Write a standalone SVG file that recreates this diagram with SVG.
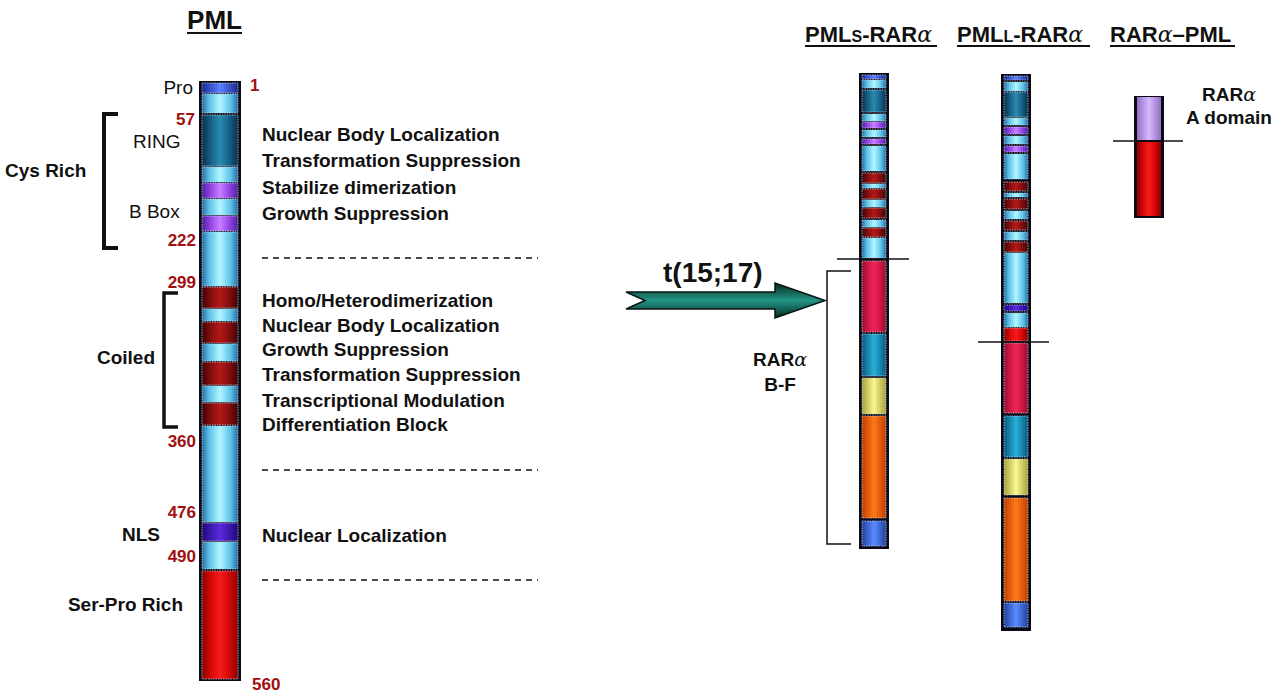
<svg xmlns="http://www.w3.org/2000/svg" width="1280" height="693" viewBox="0 0 1280 693">
<style>
.t{font-family:"Liberation Sans",Arial,sans-serif;font-size:19px;fill:#111}
.b{font-weight:bold}
.n{font-family:"Liberation Sans",Arial,sans-serif;font-size:17px;font-weight:bold;fill:#a01010}
.ttl{font-family:"Liberation Sans",Arial,sans-serif;font-size:22px;font-weight:bold;fill:#111}
.big{font-size:25px}
.tr{font-size:28px}
.sc{font-size:16px}
.al{font-weight:normal;font-family:"DejaVu Serif",serif;font-style:italic}
.dash{stroke:#111;stroke-width:1.5;stroke-dasharray:6 5;fill:none}
.cut{stroke:#111;stroke-width:1.5}
.brk{stroke:#111;fill:none}
.frame{fill:#0a0a16}
.seg{stroke:#c8d8ea;stroke-width:0.7;stroke-dasharray:1.5 1}
.cy{fill:url(#gCyan)}.tl{fill:url(#gTeal)}.pu{fill:url(#gPurple)}.bl{fill:url(#gBlue)}
.dr{fill:url(#gDRed)}.nl{fill:url(#gNLS)}.rd{fill:url(#gRed)}.cr{fill:url(#gCrim)}
.ct{fill:url(#gCteal)}.ye{fill:url(#gYel)}.or{fill:url(#gOr)}.fb{fill:url(#gFb)}.lv{fill:url(#gLav)}
</style>
<defs>
<linearGradient id="gCyan"><stop offset="0" stop-color="#2a6ea0"/><stop offset="0.2" stop-color="#5cc0e8"/><stop offset="0.5" stop-color="#b0f6ff"/><stop offset="0.8" stop-color="#5cc0e8"/><stop offset="1" stop-color="#2a6ea0"/></linearGradient>
<linearGradient id="gTeal"><stop offset="0" stop-color="#0a3050"/><stop offset="0.3" stop-color="#1a6a90"/><stop offset="0.5" stop-color="#2a8aae"/><stop offset="0.7" stop-color="#1a6a90"/><stop offset="1" stop-color="#0a3050"/></linearGradient>
<linearGradient id="gPurple"><stop offset="0" stop-color="#5020a0"/><stop offset="0.3" stop-color="#a050f0"/><stop offset="0.5" stop-color="#c880ff"/><stop offset="0.7" stop-color="#a050f0"/><stop offset="1" stop-color="#5020a0"/></linearGradient>
<linearGradient id="gBlue"><stop offset="0" stop-color="#1a2a90"/><stop offset="0.5" stop-color="#5a80ff"/><stop offset="1" stop-color="#1a2a90"/></linearGradient>
<linearGradient id="gDRed"><stop offset="0" stop-color="#400505"/><stop offset="0.3" stop-color="#901010"/><stop offset="0.5" stop-color="#b41818"/><stop offset="0.7" stop-color="#901010"/><stop offset="1" stop-color="#400505"/></linearGradient>
<linearGradient id="gNLS"><stop offset="0" stop-color="#20087a"/><stop offset="0.5" stop-color="#5a2ae0"/><stop offset="1" stop-color="#20087a"/></linearGradient>
<linearGradient id="gRed"><stop offset="0" stop-color="#8a0000"/><stop offset="0.3" stop-color="#e00a0a"/><stop offset="0.5" stop-color="#f41c1c"/><stop offset="0.7" stop-color="#e00a0a"/><stop offset="1" stop-color="#8a0000"/></linearGradient>
<linearGradient id="gCrim"><stop offset="0" stop-color="#901030"/><stop offset="0.3" stop-color="#dc1848"/><stop offset="0.5" stop-color="#e8285a"/><stop offset="0.7" stop-color="#dc1848"/><stop offset="1" stop-color="#901030"/></linearGradient>
<linearGradient id="gCteal"><stop offset="0" stop-color="#0a5a80"/><stop offset="0.5" stop-color="#28b0d8"/><stop offset="1" stop-color="#0a5a80"/></linearGradient>
<linearGradient id="gYel"><stop offset="0" stop-color="#a8a040"/><stop offset="0.5" stop-color="#f8f890"/><stop offset="1" stop-color="#a8a040"/></linearGradient>
<linearGradient id="gOr"><stop offset="0" stop-color="#c04000"/><stop offset="0.5" stop-color="#ff7818"/><stop offset="1" stop-color="#c04000"/></linearGradient>
<linearGradient id="gFb"><stop offset="0" stop-color="#2040a0"/><stop offset="0.5" stop-color="#5a8cff"/><stop offset="1" stop-color="#2040a0"/></linearGradient>
<linearGradient id="gLav"><stop offset="0" stop-color="#9070c0"/><stop offset="0.5" stop-color="#d8b8ff"/><stop offset="1" stop-color="#9070c0"/></linearGradient>
<linearGradient id="gArrow" x1="0" y1="0" x2="0" y2="1"><stop offset="0" stop-color="#062a24"/><stop offset="0.5" stop-color="#239585"/><stop offset="1" stop-color="#062a24"/></linearGradient>
</defs>
<rect width="1280" height="693" fill="#ffffff"/>

<g id="title-pml">
<text class="ttl big" x="187" y="29" textLength="55" lengthAdjust="spacingAndGlyphs">PML</text>
<line x1="187" y1="33" x2="242" y2="33" stroke="#111" stroke-width="2"/>
</g>

<g id="pml-bar">
<rect class="frame" x="199" y="81" width="42" height="600"/>
<g class="seg">
<rect class="bl" x="202" y="83" width="36" height="10"/>
<rect class="cy" x="202" y="94" width="36" height="19"/>
<rect class="tl" x="202" y="115" width="36" height="51"/>
<rect class="cy" x="202" y="167" width="36" height="15"/>
<rect class="pu" x="202" y="183" width="36" height="15"/>
<rect class="cy" x="202" y="199" width="36" height="16"/>
<rect class="pu" x="202" y="216" width="36" height="15"/>
<rect class="cy" x="202" y="232" width="36" height="54"/>
<rect class="dr" x="202" y="287" width="36" height="21"/>
<rect class="cy" x="202" y="309" width="36" height="12"/>
<rect class="dr" x="202" y="322" width="36" height="21"/>
<rect class="cy" x="202" y="344" width="36" height="17"/>
<rect class="dr" x="202" y="362" width="36" height="23"/>
<rect class="cy" x="202" y="386" width="36" height="16"/>
<rect class="dr" x="202" y="403" width="36" height="22"/>
<rect class="cy" x="202" y="426" width="36" height="96"/>
<rect class="nl" x="202" y="523" width="36" height="18"/>
<rect class="cy" x="202" y="542" width="36" height="27"/>
<rect class="rd" x="202" y="571" width="36" height="108"/>
</g>
</g>

<g id="pml-labels">
<text class="t" x="193" y="94" text-anchor="end">Pro</text>
<text class="n" x="250" y="91">1</text>
<text class="n" x="195" y="125" text-anchor="end">57</text>
<text class="t" x="133" y="148">RING</text>
<text class="t" x="129" y="218">B Box</text>
<text class="n" x="196" y="246" text-anchor="end">222</text>
<text class="t b" x="5" y="177">Cys Rich</text>
<text class="n" x="196" y="288" text-anchor="end">299</text>
<text class="t b" x="155" y="364" text-anchor="end">Coiled</text>
<text class="n" x="196" y="447" text-anchor="end">360</text>
<text class="n" x="196" y="518" text-anchor="end">476</text>
<text class="t b" x="160" y="541" text-anchor="end">NLS</text>
<text class="n" x="196" y="562" text-anchor="end">490</text>
<text class="t b" x="183" y="611" text-anchor="end">Ser-Pro Rich</text>
<text class="n" x="252" y="690">560</text>
</g>

<g id="function-labels">
<text class="t b" x="262" y="141">Nuclear Body Localization</text>
<text class="t b" x="262" y="167">Transformation Suppression</text>
<text class="t b" x="262" y="194">Stabilize dimerization</text>
<text class="t b" x="262" y="220">Growth Suppression</text>
<text class="t b" x="262" y="307">Homo/Heterodimerization</text>
<text class="t b" x="262" y="332">Nuclear Body Localization</text>
<text class="t b" x="262" y="356">Growth Suppression</text>
<text class="t b" x="262" y="381">Transformation Suppression</text>
<text class="t b" x="262" y="407">Transcriptional Modulation</text>
<text class="t b" x="262" y="431">Differentiation Block</text>
<text class="t b" x="262" y="542">Nuclear Localization</text>
</g>

<g id="titles-fusion">
<text class="ttl" x="805" y="42">PML<tspan class="sc">S</tspan>-RAR<tspan class="al">α</tspan></text>
<line x1="805" y1="46" x2="937" y2="46" stroke="#111" stroke-width="2"/>
<text class="ttl" x="957" y="42">PML<tspan class="sc">L</tspan>-RAR<tspan class="al">α</tspan></text>
<line x1="957" y1="46" x2="1090" y2="46" stroke="#111" stroke-width="2"/>
<text class="ttl" x="1110" y="42">RAR<tspan class="al">α</tspan>–PML</text>
<line x1="1110" y1="46" x2="1235" y2="46" stroke="#111" stroke-width="2"/>
</g>

<g id="pmls-rara">
<rect class="frame" x="859" y="73" width="30" height="476"/>
<g class="seg">
<rect class="bl" x="862" y="75" width="24" height="4"/>
<rect class="cy" x="862" y="80" width="24" height="8"/>
<rect class="tl" x="862" y="90" width="24" height="22"/>
<rect class="cy" x="862" y="114" width="24" height="7"/>
<rect class="pu" x="862" y="122" width="24" height="6"/>
<rect class="cy" x="862" y="130" width="24" height="7"/>
<rect class="pu" x="862" y="139" width="24" height="5"/>
<rect class="cy" x="862" y="146" width="24" height="25"/>
<rect class="dr" x="862" y="173" width="24" height="10"/>
<rect class="cy" x="862" y="184" width="24" height="4"/>
<rect class="dr" x="862" y="189" width="24" height="10"/>
<rect class="cy" x="862" y="200" width="24" height="7"/>
<rect class="dr" x="862" y="208" width="24" height="10"/>
<rect class="cy" x="862" y="220" width="24" height="7"/>
<rect class="dr" x="862" y="228" width="24" height="9"/>
<rect class="cy" x="862" y="238" width="24" height="20"/>
<rect class="cr" x="862" y="261" width="24" height="71"/>
<rect class="ct" x="862" y="334" width="24" height="42"/>
<rect class="ye" x="862" y="378" width="24" height="36"/>
<rect class="or" x="862" y="416" width="24" height="102"/>
<rect class="fb" x="862" y="521" width="24" height="25"/>
</g>
</g>

<g id="pmll-rara">
<rect class="frame" x="1001" y="74" width="30" height="557"/>
<g class="seg">
<rect class="bl" x="1004" y="76" width="24" height="4"/>
<rect class="cy" x="1004" y="82" width="24" height="9"/>
<rect class="tl" x="1004" y="92" width="24" height="25"/>
<rect class="cy" x="1004" y="118" width="24" height="7"/>
<rect class="pu" x="1004" y="127" width="24" height="7"/>
<rect class="cy" x="1004" y="136" width="24" height="8"/>
<rect class="pu" x="1004" y="146" width="24" height="6"/>
<rect class="cy" x="1004" y="154" width="24" height="25"/>
<rect class="dr" x="1004" y="182" width="24" height="9"/>
<rect class="cy" x="1004" y="193" width="24" height="4"/>
<rect class="dr" x="1004" y="199" width="24" height="10"/>
<rect class="cy" x="1004" y="211" width="24" height="8"/>
<rect class="dr" x="1004" y="221" width="24" height="9"/>
<rect class="cy" x="1004" y="232" width="24" height="8"/>
<rect class="dr" x="1004" y="242" width="24" height="10"/>
<rect class="cy" x="1004" y="253" width="24" height="50"/>
<rect class="nl" x="1004" y="305" width="24" height="6"/>
<rect class="cy" x="1004" y="313" width="24" height="14"/>
<rect class="rd" x="1004" y="328" width="24" height="13"/>
<rect class="cr" x="1004" y="343" width="24" height="70"/>
<rect class="ct" x="1004" y="416" width="24" height="41"/>
<rect class="ye" x="1004" y="459" width="24" height="36"/>
<rect class="or" x="1004" y="498" width="24" height="103"/>
<rect class="fb" x="1004" y="603" width="24" height="24"/>
</g>
</g>

<g id="rara-pml">
<rect class="frame" x="1134" y="96" width="30" height="122"/>
<rect class="lv" x="1137" y="97" width="24" height="43"/>
<rect class="rd" x="1137" y="142" width="24" height="74"/>
<text class="t b" x="1229" y="101" text-anchor="middle">RAR<tspan class="al">α</tspan></text>
<text class="t b" x="1229" y="124" text-anchor="middle">A domain</text>
</g>

<g id="rara-bf-label">
<text class="t b" x="780" y="366" text-anchor="middle">RAR<tspan class="al">α</tspan></text>
<text class="t b" x="780" y="391" text-anchor="middle">B-F</text>
</g>

<g id="connectors">
<path class="brk" stroke-width="4" d="M118,114 H104 V248 H118"/>
<path class="brk" stroke-width="3.5" d="M178,293 H164 V427 H178"/>
<line class="dash" x1="262" y1="258" x2="538" y2="258"/>
<line class="dash" x1="262" y1="470" x2="538" y2="470"/>
<line class="dash" x1="262" y1="580" x2="538" y2="580"/>
<line class="cut" x1="837" y1="259" x2="909" y2="259"/>
<line class="cut" x1="978" y1="342" x2="1049" y2="342"/>
<line class="cut" x1="1113" y1="141" x2="1183" y2="141"/>
<path class="brk" stroke-width="1.5" d="M851,271 H827 V544 H851"/>
<polygon points="626,292 775,292 775,283 825,300.5 775,318 775,309 626,309 645,300.5" fill="url(#gArrow)" stroke="#061410" stroke-width="1.5"/>
<text class="t b tr" x="663" y="282">t(15;17)</text>
</g>
</svg>
